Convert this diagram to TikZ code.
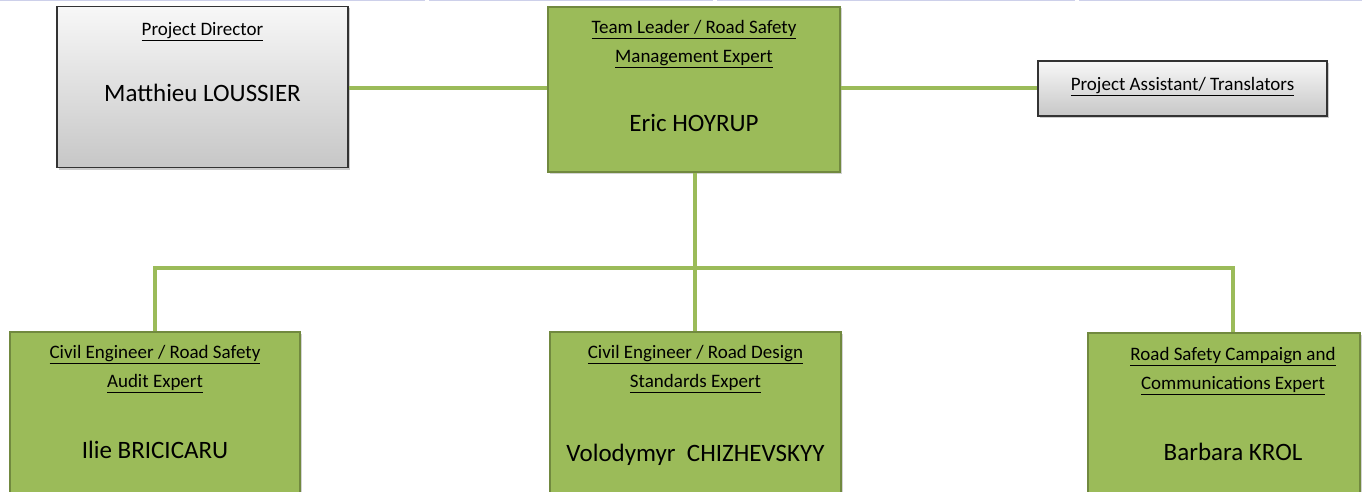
\documentclass[tikz,border=0pt]{standalone}
\usepackage{fontspec}
\setmainfont{Carlito}
\usetikzlibrary{shadows}
\definecolor{ogreen}{HTML}{9BBB59}
\definecolor{ogreenD}{HTML}{71893F}
\definecolor{lav}{HTML}{CDD0EA}
\tikzset{
  gbox/.style={draw=ogreenD, line width=1.2pt, fill=ogreen, inner sep=0pt,
    drop shadow={shadow xshift=1.5pt, shadow yshift=-1.5pt, opacity=0.35}},
  graybox/.style={draw=black!80, line width=1.4pt, inner sep=0pt,
    top color=white!97!black, bottom color=black!22,
    drop shadow={shadow xshift=1.5pt, shadow yshift=-2pt, opacity=0.4}},
  conn/.style={draw=ogreen, line width=4.5pt},
  ttl/.style={font=\fontsize{19}{29}\selectfont, align=center, text=black, inner sep=0pt},
  nm/.style={font=\fontsize{25}{28}\selectfont, text=black, inner sep=0pt}
}
\begin{document}
\begin{tikzpicture}[x=1pt,y=-1pt]
\useasboundingbox (0,0) rectangle (1362,492);
% faint top border
\draw[lav, line width=1.5pt] (0,0.5) -- (425,0.5) (429,0.5) -- (713,0.5) (717,0.5) -- (1075,0.5) (1079,0.5) -- (1362,0.5);
% boxes
\node[graybox, minimum width=291pt, minimum height=161pt] (pd) at (202.5,87) {};
\node[gbox, minimum width=292pt, minimum height=165pt] (tl) at (694,89.5) {};
\node[graybox, minimum width=289pt, minimum height=55pt] (pa) at (1182.5,88.5) {};
\node[gbox, minimum width=290pt, minimum height=180pt] (b1) at (155,422) {};
\node[gbox, minimum width=291pt, minimum height=180pt] (b2) at (695.5,422) {};
\node[gbox, minimum width=272pt, minimum height=180pt] (b3) at (1224,423) {};
% junction coordinates
\coordinate (j2) at (695,268);
\coordinate (j1) at (155,268);
\coordinate (j3) at (1233,268);
% connectors
\draw[conn] (pd.east |- 0,88) -- (tl.west |- 0,88);
\draw[conn] (tl.east |- 0,88) -- (pa.west |- 0,88);
\draw[conn, line width=4pt] (tl.south -| j2) -- (j2);
\draw[conn, line join=miter] (b1.north -| j1) -- (j1) -- (j3) -- (b3.north -| j3);
\draw[conn, line width=4pt] (j2) -- (b2.north -| j2);
% texts
\node[ttl] (pdt) at (202.5,32) {\underline{Project Director}};
\node[nm] (pdn) at (202.5,93) {Matthieu LOUSSIER};
\node[ttl, anchor=north] (tlt) at (694,20) {\underline{Team Leader / Road Safety}\\\underline{Management Expert}};
\node[nm] (tln) at (694,123) {Eric HOYRUP};
\node[ttl] (pat) at (1182.5,87) {\underline{Project Assistant/ Translators}};
\node[ttl, anchor=north] (b1t) at (155,345) {\underline{Civil Engineer / Road Safety}\\\underline{Audit Expert}};
\node[nm] (b1n) at (155,450) {Ilie BRICICARU};
\node[ttl, anchor=north] (b2t) at (695.5,345) {\underline{Civil Engineer / Road Design}\\\underline{Standards Expert}};
\node[nm] (b2n) at (695.5,455) {Volodymyr\ \ CHIZHEVSKYY};
\node[ttl, anchor=north] (b3t) at (1233,347) {\underline{Road Safety Campaign and}\\\underline{Communications Expert}};
\node[nm] (b3n) at (1233,452) {Barbara KROL};
\end{tikzpicture}
\end{document}
